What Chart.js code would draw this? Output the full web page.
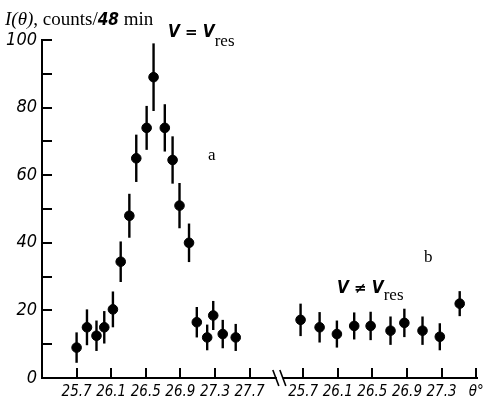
<!DOCTYPE html>
<html><head><meta charset="utf-8">
<script src="https://cdn.jsdelivr.net/npm/chart.js@4/dist/chart.umd.min.js"></script>
<style>html,body{margin:0;padding:0;background:#fff}#wrap{width:489px;height:405px}</style>
</head><body><div id="wrap"><canvas id="c" width="489" height="405"></canvas></div>
<script>
// ---- data ----
const thetaA  = [25.70,25.82,25.93,26.02,26.12,26.21,26.31,26.39,26.51,26.59,26.72,26.81,26.89,27.00,27.09,27.21,27.28,27.39,27.54];
const countsA = [9,15,12.5,15,20.3,34.4,48,65,74,89,74,64.5,51,40,16.5,12,18.5,13,12];
const errA    = [4.5,5.3,4.5,4.8,5.3,6,6.5,7,6.5,10,7,7,6.7,5.7,4.5,3.8,4.3,4.2,4];
const thetaB  = [25.67,25.89,26.09,26.29,26.48,26.71,26.87,27.08,27.28,27.51];
const countsB = [17.2,15,13,15.4,15.4,14,16.3,14,12.2,22];
const errB    = [4.8,4.5,4,4,4.2,4.2,4.2,4.2,4,3.7];
const tickThetaA  = [25.7,26.1,26.5,26.9,27.3,27.7];
const tickLabelsA = ['25.7','26.1','26.5','26.9','27.3','27.7'];
const tickThetaB  = [25.7,26.1,26.5,26.9,27.3,27.7];
const tickLabelsB = ['25.7','26.1','26.5','26.9','27.3','θ°'];
const yTicks = [0,20,40,60,80,100];
const yMinorTicks = [10,30,50,70,90];

// panel b is placed after the axis break, shifted along the common axis
const OFFSET = 2.62;
const BREAK_AT = 28.05;

const xTickValues = tickThetaA.concat(tickThetaB.map(t => t + OFFSET));
const xTickLabels = tickLabelsA.concat(tickLabelsB);

const ptsA = thetaA.map((t,i) => ({x:t, y:countsA[i], e:errA[i]}));
const ptsB = thetaB.map((t,i) => ({x:t + OFFSET, y:countsB[i], e:errB[i]}));

const condensed = '"DejaVu Sans Condensed","DejaVu Sans",sans-serif';

const errorBars = {
  id:'errorBars',
  beforeDatasetsDraw(chart){
    const ctx = chart.ctx, xs = chart.scales.x, ys = chart.scales.y;
    ctx.save(); ctx.strokeStyle='#000'; ctx.lineWidth=2.4;
    chart.data.datasets.forEach(ds => ds.data.forEach(p => {
      const px = xs.getPixelForValue(p.x);
      ctx.beginPath();
      ctx.moveTo(px, ys.getPixelForValue(p.y - p.e));
      ctx.lineTo(px, ys.getPixelForValue(p.y + p.e));
      ctx.stroke();
    }));
    ctx.restore();
  }
};

const decorations = {
  id:'decorations',
  afterDraw(chart){
    const ctx = chart.ctx, xs = chart.scales.x, ys = chart.scales.y, a = chart.chartArea;
    ctx.save();
    ctx.strokeStyle='#000'; ctx.lineWidth=2;
    // inward ticks
    yTicks.concat(yMinorTicks).forEach(v => {
      if (v === 0) return;
      const py = Math.round(ys.getPixelForValue(v));
      ctx.beginPath(); ctx.moveTo(a.left, py); ctx.lineTo(a.left + 10, py); ctx.stroke();
    });
    xTickValues.forEach(v => {
      const px = Math.round(xs.getPixelForValue(v));
      ctx.beginPath(); ctx.moveTo(px, a.bottom); ctx.lineTo(px, a.bottom - 10); ctx.stroke();
    });
    // axis break
    const bx = xs.getPixelForValue(BREAK_AT);
    ctx.fillStyle='#fff';
    ctx.fillRect(bx - 3, a.bottom - 3, 6, 6);
    ctx.lineWidth = 1.6;
    [-4, 3].forEach(d => {
      ctx.beginPath(); ctx.moveTo(bx + d - 3, a.bottom - 8); ctx.lineTo(bx + d + 3, a.bottom + 8); ctx.stroke();
    });
    // texts
    ctx.fillStyle='#000'; ctx.textBaseline='alphabetic';
    const parts = (x, y, list) => {
      list.forEach(([txt, font, dy]) => {
        ctx.font = font;
        ctx.fillText(txt, x, y + (dy || 0));
        x += ctx.measureText(txt).width;
      });
    };
    parts(5, 25, [
      ['I(θ)', 'italic 19px "Liberation Serif",serif'],
      [', counts/', '19px "Liberation Serif",serif'],
      ['48', 'italic bold 17px ' + condensed],
      [' min', '19px "Liberation Serif",serif']
    ]);
    parts(168, 37, [
      ['V', 'italic bold 17px ' + condensed],
      [' = ', 'bold 15px "DejaVu Sans",sans-serif'],
      ['V', 'italic bold 17px ' + condensed],
      ['res', '17px "Liberation Serif",serif', 9]
    ]);
    parts(337, 293, [
      ['V', 'italic bold 17px ' + condensed],
      [' ≠ ', 'bold 15px "DejaVu Sans",sans-serif'],
      ['V', 'italic bold 17px ' + condensed],
      ['res', '17px "Liberation Serif",serif', 7]
    ]);
    ctx.font = '17px "Liberation Serif",serif';
    ctx.fillText('a', 208, 160);
    ctx.fillText('b', 424, 262);
    ctx.restore();
  }
};

new Chart(document.getElementById('c'), {
  type:'scatter',
  data:{datasets:[
    {data:ptsA, backgroundColor:'#000', borderColor:'#000', pointRadius:4.8, pointHoverRadius:4.8},
    {data:ptsB, backgroundColor:'#000', borderColor:'#000', pointRadius:4.8, pointHoverRadius:4.8}
  ]},
  options:{
    responsive:false, animation:false, devicePixelRatio:1,
    layout:{padding:{top:40, right:12, left:0, bottom:0}},
    plugins:{legend:{display:false}, tooltip:{enabled:false}},
    events:[],
    scales:{
      x:{
        type:'linear', min:25.3, max:30.33,
        grid:{display:false, drawTicks:false},
        border:{display:true, color:'#000', width:2},
        afterBuildTicks(s){ s.ticks = xTickValues.map(v => ({value:v})); },
        afterFit(s){ s.height = 27; },
        ticks:{color:'#000', font:{family:condensed, size:15, style:'italic'}, padding:5, autoSkip:false, maxRotation:0,
          callback:(v,i) => xTickLabels[i]}
      },
      y:{
        min:0, max:100,
        grid:{display:false, drawTicks:false},
        border:{display:true, color:'#000', width:2},
        afterBuildTicks(s){ s.ticks = yTicks.map(v => ({value:v})); },
        afterFit(s){ s.width = 42; },
        ticks:{color:'#000', font:{family:condensed, size:18, style:'italic'}, padding:5, callback:v => String(v)}
      }
    }
  },
  plugins:[errorBars, decorations]
});
</script></body></html>
